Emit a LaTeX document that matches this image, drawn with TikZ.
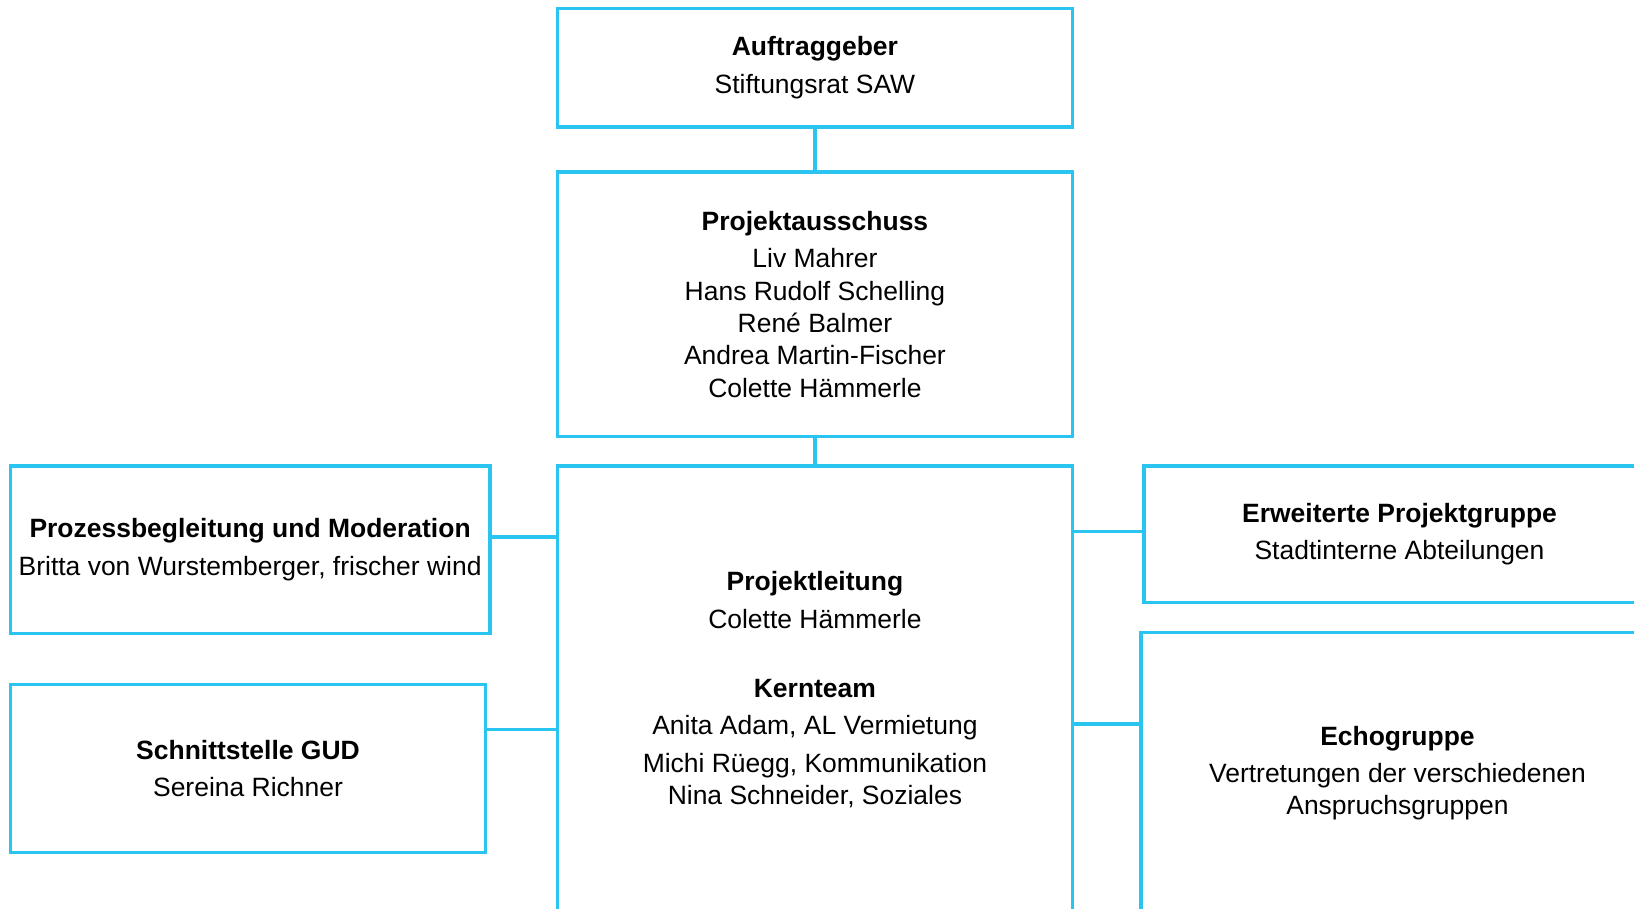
\documentclass[tikz,border=0pt]{standalone}
\usepackage{fontspec}
\setmainfont{Liberation Sans}
\definecolor{orgblue}{RGB}{41,197,240}

\begin{document}
\begin{tikzpicture}[x=1pt,y=-1pt,
	every node/.style={align=center,font=\fontsize{25.4}{31}\selectfont},
	box/.style={draw=orgblue,line width=3.5pt,inner sep=0pt},
	link/.style={draw=orgblue,line width=3.5pt}]
		\useasboundingbox (0,0) rectangle (1568,872);
		\clip (0,0) rectangle (1568,872);
		\node[box,minimum width=494,minimum height=114] (auftrag) at (782,65) {\textbf{Auftraggeber} \\[5pt] Stiftungsrat SAW};
		\node[box,minimum width=494,minimum height=254] (ausschuss) at (782,292) {\textbf{Projektausschuss} \\[5pt] Liv Mahrer \\ Hans Rudolf Schelling \\ René Balmer \\ Andrea Martin-Fischer \\ Colette Hämmerle};
		\node[box,minimum width=494,minimum height=430] (leitung) at (782,662) {\textbf{Projektleitung} \\[5pt] Colette Hämmerle \\[35pt] \textbf{Kernteam} \\[5pt] Anita Adam, AL Vermietung \\[5pt] Michi Rüegg, Kommunikation \\ Nina Schneider, Soziales}; % runs off the bottom
		\node[box,minimum width=460,minimum height=161] (prozess) at (240,527.5) {\textbf{Prozessbegleitung und Moderation} \\[5pt] Britta von Wurstemberger, frischer wind};
		\node[box,minimum width=456,minimum height=161] (schnitt) at (238,737.5) {\textbf{Schnittstelle GUD} \\[5pt] Sereina Richner};
		\node[box,minimum width=490,minimum height=131] (erweitert) at (1343,512.5) {\textbf{Erweiterte Projektgruppe} \\[5pt] Stadtinterne Abteilungen}; % runs off the right
		\node[box,minimum width=492,minimum height=270] (echo) at (1341,742) {\textbf{Echogruppe} \\[5pt] Vertretungen der verschiedenen \\ Anspruchsgruppen};
		% connectors
		\draw[link] (auftrag) -- (ausschuss);
		\draw[link] (ausschuss) -- (leitung);
		\draw[link] (prozess.east |- 0,515) -- (leitung.west |- 0,515);
		\draw[link] (schnitt.east |- 0,700) -- (leitung.west |- 0,700);
		\draw[link] (leitung.east |- 0,510) -- (erweitert.west |- 0,510);
		\draw[link] (leitung.east |- 0,695) -- (echo.west |- 0,695);
	\end{tikzpicture}
\end{document}
